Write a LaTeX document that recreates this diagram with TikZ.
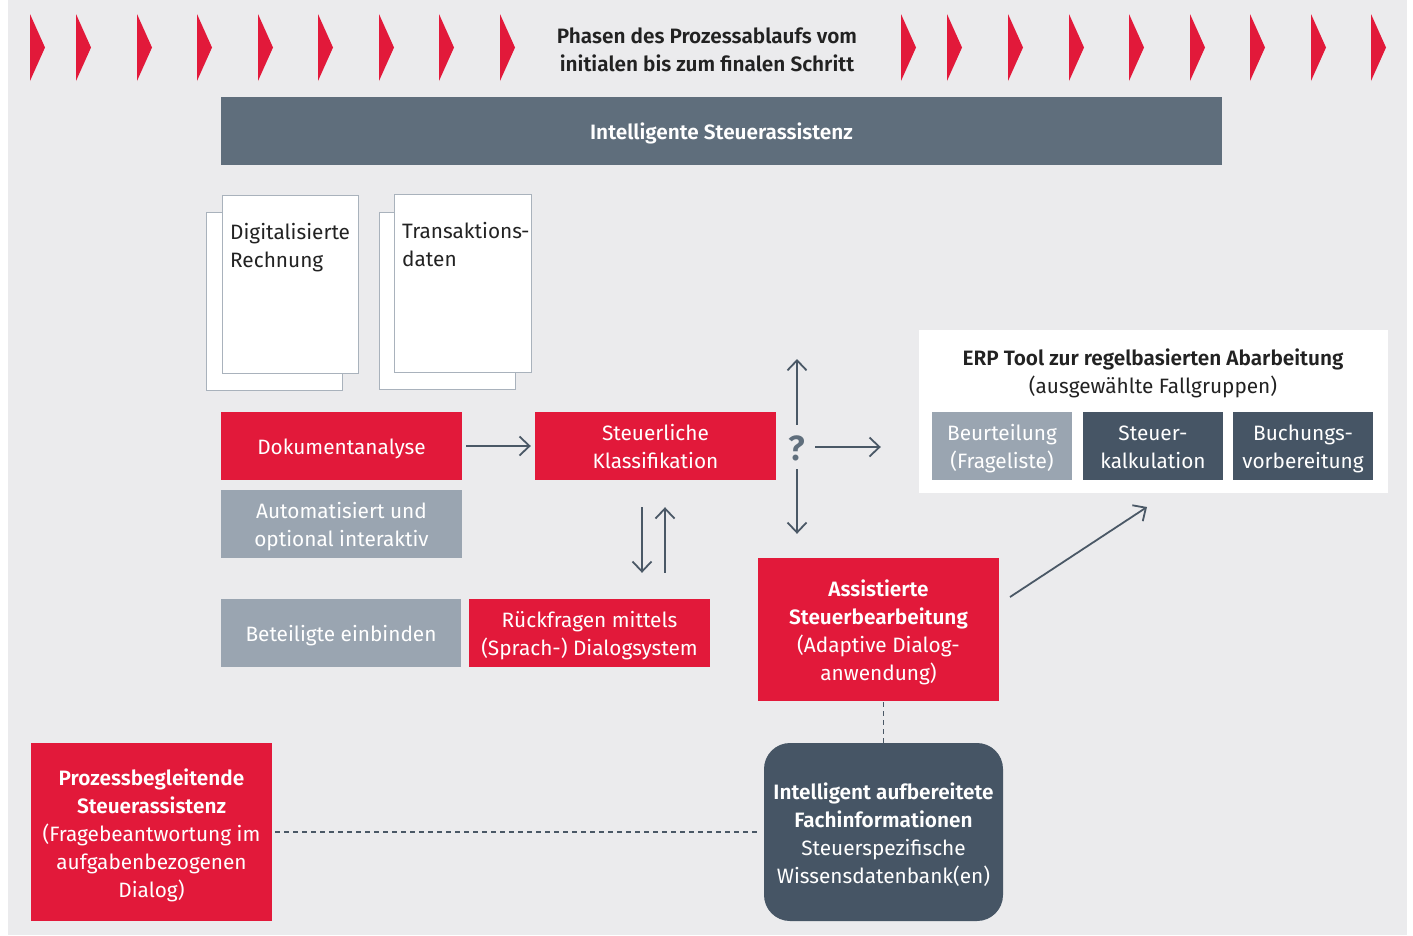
\documentclass[tikz,border=0pt]{standalone}
\usepackage{fontspec}
\setmainfont{Fira Sans}[BoldFont={Fira Sans SemiBold}]
\usetikzlibrary{arrows.meta,calc}
\definecolor{bgcol}{HTML}{EBEBED}
\definecolor{redcol}{HTML}{E2193A}
\definecolor{barcol}{HTML}{5F6E7C}
\definecolor{darkcol}{HTML}{465565}
\definecolor{greycol}{HTML}{9AA5B1}
\definecolor{arrcol}{HTML}{4A5866}
\definecolor{sheetline}{HTML}{A9B2BC}
\definecolor{txtcol}{HTML}{222222}
\begin{document}
\begin{tikzpicture}[x=1pt,y=-1pt,
  txt/.style={font=\fontsize{20.8}{28}\selectfont},
  box/.style={rectangle,inner sep=0pt,minimum width=241pt,minimum height=68pt},
  redbox/.style={box,fill=redcol},
  greybox/.style={box,fill=greycol},
  darkbox/.style={box,fill=darkcol},
  boxtext/.style={txt,inner sep=0pt,align=center,text=white},
  sheet/.style={draw=sheetline,line width=1pt,fill=white},
  arr/.style={draw=arrcol,line width=1.8pt,-{Straight Barb[length=10pt,width=19pt,line width=1.8pt]}},
  dashline/.style={draw=arrcol,line width=1.5pt,dash pattern=on 5pt off 4pt},
  chev/.style={fill=redcol}]
\useasboundingbox (0,0) rectangle (1413,935);
\fill[white] (0,0) rectangle (1413,935);
\fill[bgcol] (8,0) rectangle (1407,935);

% phase chevrons
\foreach \cx in {30,76,137,197,258,318,379,439,500,901,947,1008,1069,1129,1190,1250,1311,1371}
  \fill[chev] (\cx,14) -- (\cx+15,47.5) -- (\cx,81) -- cycle;
\node[txt,font=\fontsize{20.8}{28}\selectfont\bfseries,text=txtcol,align=center,inner sep=0pt] (phase) at (707,50)
  {Phasen des Prozessablaufs vom\\initialen bis zum finalen Schritt};

% top bar
\node[box,fill=barcol,minimum width=1001pt] (bar) at (721.5,131) {};
\node[boxtext,font=\fontsize{20.8}{28}\selectfont\bfseries] (bart) at ([yshift=-2pt]bar.center) {Intelligente Steuerassistenz};

% document sheets
\draw[sheet] (206,212) rectangle (342,390);
\draw[sheet] (222,195) rectangle (358,373);
\draw[sheet] (379,212) rectangle (515,389);
\draw[sheet] (394,194) rectangle (531,372);
\node[txt,anchor=north west,inner sep=0pt,align=left,text=txtcol] (doc1) at (230,223) {Digitalisierte\\Rechnung};
\node[txt,anchor=north west,inner sep=0pt,align=left,text=txtcol] (doc2) at (402,222) {Transaktions\kern-1pt-\\daten};

% process boxes
\node[redbox] (dok) at (341.5,446) {};
\node[boxtext] (dokt) at ([yshift=-2.5pt]dok.center) {Dokumentanalyse};
\node[greybox] (auto) at (341.5,524) {};
\node[boxtext] (autot) at ([yshift=-3pt]auto.center) {Automatisiert und\\optional interaktiv};
\node[redbox] (stk) at (655.5,446) {};
\node[boxtext] (stkt) at ([yshift=-1pt]stk.center) {Steuerliche\\Klassifikation};
\node[greybox,minimum width=240pt] (bet) at (341,633) {};
\node[boxtext] (bett) at ([yshift=-2.5pt]bet.center) {Beteiligte einbinden};
\node[redbox] (rf) at (589.5,633) {};
\node[boxtext] (rft) at ([yshift=-3pt]rf.center) {Rückfragen mittels\\(Sprach-) Dialogsystem};

% decision point
\node[inner sep=0pt,minimum width=36pt,minimum height=44pt] (q) at (797,447) {};
\node[inner sep=0pt,text=barcol,font=\fontsize{35}{35}\selectfont\bfseries] (qt) at ([yshift=-1pt]q.center) {?};

% ERP tool
\node[fill=white,inner sep=0pt,minimum width=469pt,minimum height=163pt] (erp) at (1153.5,411.5) {};
\node[txt,align=center,text=txtcol,inner sep=0pt] (erpt) at (1153,373) {\textbf{ERP Tool zur regelbasierten Abarbeitung}\\(ausgewählte Fallgruppen)};
\node[greybox,minimum width=140pt] (beu) at (1002,446) {};
\node[boxtext] (beut) at ([yshift=-3pt]beu.center) {Beurteilung\\(Frageliste)};
\node[darkbox,minimum width=140pt] (kal) at (1153,446) {};
\node[boxtext] (kalt) at ([yshift=-1pt]kal.center) {Steuer-\\kalkulation};
\node[darkbox,minimum width=140pt] (buc) at (1303,446) {};
\node[boxtext] (buct) at ([yshift=-3pt]buc.center) {Buchungs-\\vorbereitung};

% assisted processing
\node[redbox,minimum height=143pt] (ast) at (878.5,629.5) {};
\node[boxtext] (astt) at ([yshift=-3pt]ast.center) {\textbf{Assistierte}\\\textbf{Steuerbearbeitung}\\(Adaptive Dialog-\\anwendung)};

% knowledge base
\node[darkbox,minimum width=239pt,minimum height=178pt,rounded corners=26pt] (kb) at (883.5,832) {};
\node[boxtext] (kbt) at ([yshift=-3pt]kb.center) {\textbf{Intelligent aufbereitete}\\\textbf{Fachinformationen}\\Steuerspezifische\\Wissensdatenbank(en)};

% process-accompanying assistance
\node[redbox,minimum height=178pt] (pb) at (151.5,832) {};
\node[boxtext] (pbt) at ([yshift=-3pt]pb.center) {\textbf{Prozessbegleitende}\\\textbf{Steuerassistenz}\\(Fragebeantwortung im\\aufgabenbezogenen\\Dialog)};

% connectors
\draw[arr,shorten <=4pt,shorten >=4pt] (dok.east) -- (stk.west);
\coordinate (dl) at (642,0);
\coordinate (ul) at (665,0);
\draw[arr,shorten <=27pt,shorten >=26pt] (stk.south -| dl) -- (rf.north -| dl);
\draw[arr,shorten <=26pt,shorten >=27pt] (rf.north -| ul) -- (stk.south -| ul);
\coordinate (qup) at (797,359);
\draw[arr] (q.north) -- (qup);
\draw[arr,shorten >=24pt] (q.south) -- (q.south |- ast.north);
\draw[arr,shorten >=38pt] (q.east) -- (q.east -| erp.west);
\coordinate (dstart) at (1010,597);
\coordinate (dend) at (1147,507);
\draw[arr] (dstart) -- (dend);
\draw[dashline] (kb.north) -- (kb.north |- ast.south);
\draw[dashline,shorten <=3pt,shorten >=4pt] (pb.east) -- (kb.west);
\end{tikzpicture}
\end{document}
